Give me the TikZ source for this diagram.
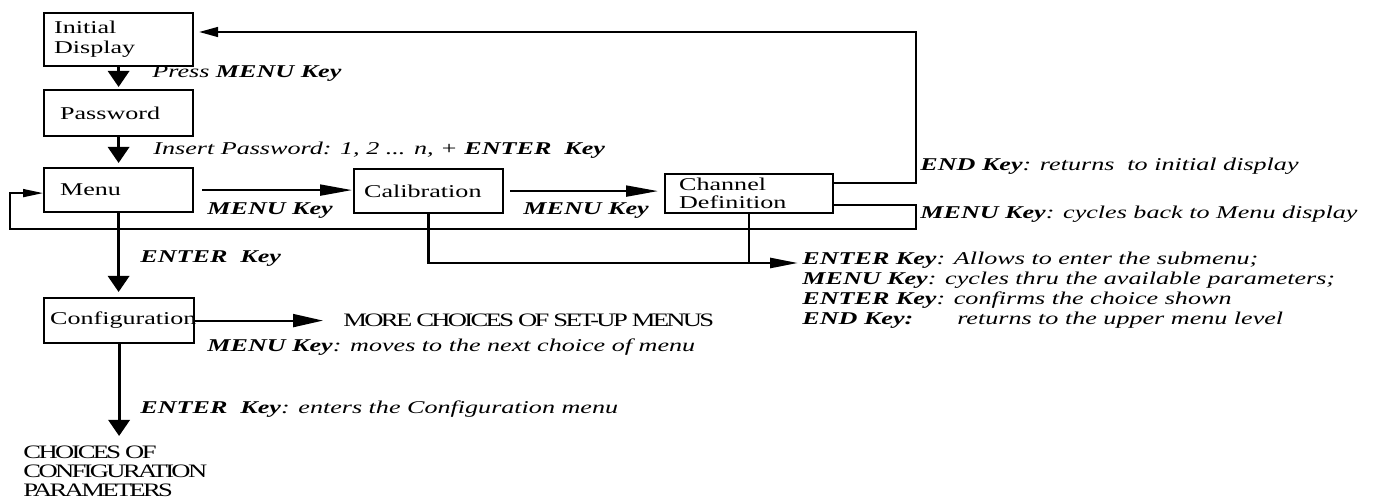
\documentclass[tikz,border=0pt]{standalone}
\usepackage{fontspec}
\setmainfont{Liberation Serif}[FakeStretch=1.45]
\newfontfamily\capsfont{Liberation Serif}[FakeStretch=1.4,LetterSpace=-14]
\usepackage{tikz}
\usetikzlibrary{arrows,arrows.meta}
\newcommand{\diagfont}{\fontsize{9pt}{10pt}\selectfont}
\newcommand{\kname}[1]{\textbf{\textit{#1}}}
\tikzset{%
    >={Triangle[length=8pt,width=10.5pt]},
    menubox/.style={draw, line width=1.1pt, anchor=north west, align=left,
        inner xsep=5pt, inner ysep=1pt, text width=64.5pt, minimum height=22pt},
    keylabel/.style={anchor=base west, inner sep=0pt, font=\diagfont\itshape},
    capslabel/.style={inner sep=0pt, align=left, font=\capsfont\fontsize{9.5pt}{9.5pt}\selectfont},
    vflow/.style={line width=1.6pt, ->},
    hflow/.style={line width=1pt, -{Triangle[length=16pt,width=5.5pt]}},
    backflow/.style={line width=0.8pt}
}

\begin{document}
\begin{tikzpicture}[x=0.5pt, y=-0.5pt, font=\diagfont]
        \useasboundingbox (0,0) rectangle (1383,501);

        \node[menubox, minimum height=26.5pt] (init) at (43,12) {Initial\\Display};
        \node[menubox, minimum height=23pt] (pass) at (43,89) {\hspace*{3pt}Password};
        \node[menubox] (menu) at (43,167) {\hspace*{3pt}Menu};
        \node[menubox] (cal) at (353,168) {Calibration};
        \node[menubox, inner xsep=7pt, text width=70pt, inner ysep=0pt, minimum height=19.5pt,
            font=\fontsize{9pt}{9pt}\selectfont] (chan) at (664,173) {Channel\\Definition};
        \node[menubox, inner xsep=3pt, text width=69pt, minimum height=22.5pt] (config) at (43,297) {Configuration};

        \node[capslabel, anchor=west] (more) at (343,320) {MORE CHOICES OF SET-UP MENUS};
        \node[capslabel, anchor=north west] (choices) at (23,446) {CHOICES OF\\CONFIGURATION\\PARAMETERS};

        \node[keylabel] (lpress) at (152,78) {Press \kname{MENU Key}};
        \node[keylabel] (lpass) at (153,155) {Insert Password: 1, 2 ... n, + \kname{ENTER~ Key}};
        \node[keylabel] (lmenua) at (207,215) {\kname{MENU Key}};
        \node[keylabel] (lmenub) at (523,215) {\kname{MENU Key}};
        \node[keylabel] (lend) at (920,171) {\kname{END Key}: returns~ to initial display};
        \node[keylabel] (lcycle) at (920,219) {\kname{MENU Key}: cycles back to Menu display};
        \node[keylabel] (lenter) at (140,263) {\kname{ENTER~ Key}};
        \node[keylabel] (sub1) at (802,265) {\kname{ENTER Key}: Allows to enter the submenu;};
        \node[keylabel] (sub2) at (802,285) {\kname{MENU Key}: cycles thru the available parameters;};
        \node[keylabel] (sub3) at (802,305) {\kname{ENTER Key}: confirms the choice shown};
        \node[keylabel] (sub4) at (802,325) {\kname{END Key:}\hspace{22pt}returns to the upper menu level};
        \node[keylabel] (lmoves) at (207,352) {\kname{MENU Key}: moves to the next choice of menu};
        \node[keylabel] (lconf) at (140,414) {\kname{ENTER~ Key}: enters the Configuration menu};

        \coordinate (ret) at (916,32);
        \coordinate (loopr) at (916,229);
        \coordinate (loopl) at (10,229);
        \coordinate (enter) at (798,263);

        \draw[vflow, shorten >=1pt] (init) -- (pass);
        \draw[vflow, shorten >=2pt] (pass) -- (menu);
        \draw[vflow, shorten >=2.5pt] (menu.south) -- (menu.south |- config.north);
        \draw[vflow, shorten >=5pt] (config.south) -- (config.south |- choices.north);
        \draw[hflow, shorten <=4pt, shorten >=0.5pt] (menu.east) -- (menu.east -| cal.west);
        \draw[hflow, shorten <=3pt, shorten >=3pt] (cal.east) -- (cal.east -| chan.west);
        \draw[hflow, -{Triangle[length=15pt,width=6.5pt]}, shorten >=10pt] (config.east) -- (config.east -| more.west);
        \draw[backflow, -{Triangle[length=9.5pt,width=5pt]}, shorten >=2.5pt]
            ([yshift=-5pt]chan.north east) -| (ret) -- (init.east |- ret);
        \draw[backflow, -{Triangle[length=10pt,width=4pt]}]
            ([yshift=4.5pt]chan.south east) -| (loopr) -- (loopl) |- ([yshift=-1.5pt]menu.west);
        \draw[line width=1.3pt, -{Triangle[length=14pt,width=5pt]}] (cal.south) |- (enter);
        \draw[line width=1.3pt] (chan.south) -- (chan.south |- enter);
\end{tikzpicture}
\end{document}
